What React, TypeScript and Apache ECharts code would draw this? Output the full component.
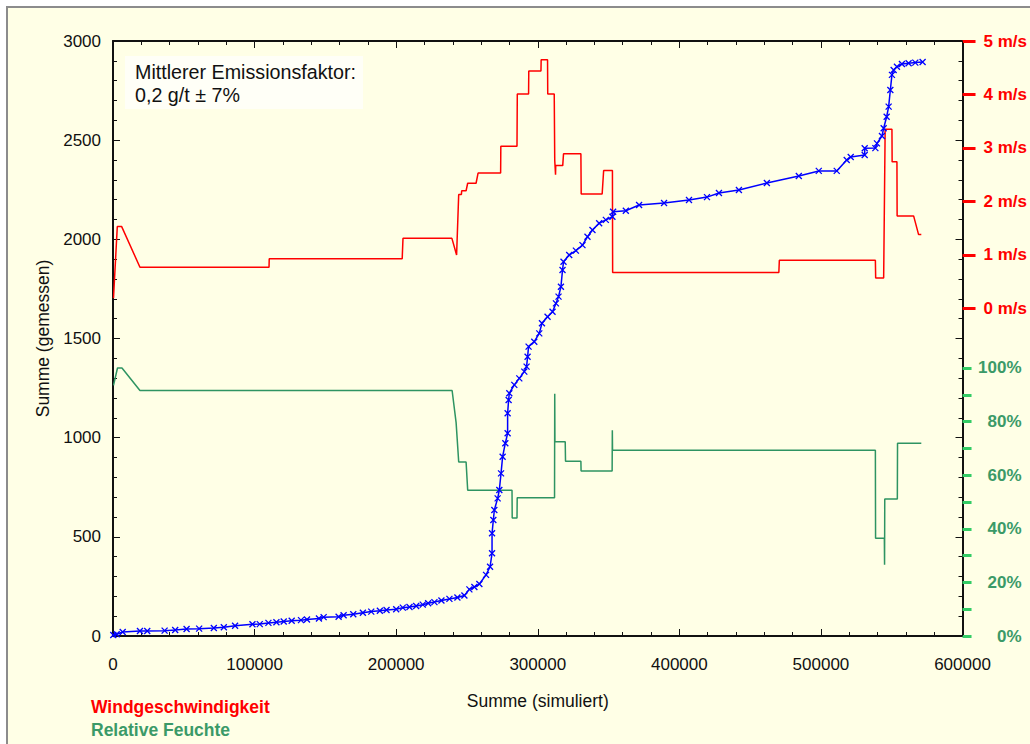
import { useEffect, useRef } from "react";
import * as echarts from "echarts";

// Cumulative sums: simulated (x) vs. measured (y)
const simulatedSum = [
  212, 2609, 6839, 19036, 24183, 36451, 43925, 51962, 60847, 71210, 78261, 86228, 98496, 103642,
  109776, 115417, 120564, 126204, 132761, 136992, 145452, 148766, 159342, 162867, 169706, 176475,
  182397, 188461, 193184, 200023, 204677, 209400, 214124, 218777, 222585, 227026, 231962, 237602,
  243242, 248178, 251703, 255229, 258754, 263478, 266298, 267708, 267708, 268625, 269330, 271657,
  272854, 274053, 275181, 277085, 278706, 278706, 279411, 279905, 283430, 286956, 290481, 292103,
  292808, 293513, 297531, 301057, 302961, 306909, 310434, 312831, 314664, 316357, 317485, 318190,
  322208, 326932, 331586, 335111, 338636, 343360, 348084, 352737, 353230, 362185, 371561, 389188,
  406814, 419505, 427966, 442067, 461808, 484370, 498471, 511161, 518212, 521032, 530903, 530903,
  538443, 539571, 543096, 544294, 546409, 547819, 549018, 550146, 551344, 553672, 557197, 561920,
  566643, 571796,
];
const measuredSum = [
  5, 9, 20, 25, 25, 27, 30, 35, 37, 40, 44, 52, 59, 60,
  66, 69, 73, 77, 80, 83, 88, 95, 97, 105, 110, 117,
  123, 127, 131, 135, 143, 146, 151, 158, 165, 171, 179, 187,
  194, 204, 235, 247, 262, 308, 349, 417, 518, 585, 635, 694,
  736, 820, 904, 972, 1022, 1123, 1190, 1224, 1266, 1299, 1333, 1358,
  1408, 1459, 1484, 1526, 1577, 1610, 1635, 1677, 1711, 1761, 1845, 1887,
  1921, 1943, 1971, 2013, 2047, 2081, 2098, 2114, 2139, 2144, 2173, 2183,
  2198, 2213, 2234, 2249, 2284, 2319, 2345, 2345, 2400, 2415, 2425, 2459,
  2460, 2484, 2521, 2560, 2618, 2669, 2753, 2829, 2854, 2870, 2884, 2888,
  2891, 2894,
];

// Wind speed (m/s) along the simulated sum
const windX = [
  350, 3032, 6134, 19036, 110199, 110340, 204255, 204818, 239364, 242678, 244159, 246062, 246273,
  249375, 250503, 256426, 257836, 273770, 273911, 285333, 285545, 293512, 293653, 302255, 302396,
  306908, 307049, 311632, 311985, 312549, 312690, 317626, 318190, 330458, 330669, 345475, 346533,
  352738, 352879, 470268, 470621, 538443, 538654, 544294, 545352, 550146, 550288, 553672, 553813,
  565450, 568975, 570879,
];
const windSpeed = [
  0.19, 1.53, 1.53, 0.77, 0.77, 0.93, 0.93, 1.31, 1.31, 1.0, 2.13, 2.13, 2.2,
  2.2, 2.34, 2.34, 2.53, 2.53, 3.03, 3.03, 4.01, 4.01, 4.44, 4.44, 4.65,
  4.65, 4.01, 4.01, 2.77, 2.5, 2.67, 2.67, 2.89, 2.89, 2.14, 2.14, 2.58,
  2.58, 0.67, 0.67, 0.9, 0.9, 0.57, 0.57, 3.35, 3.35, 2.74, 2.74, 1.73,
  1.73, 1.38, 1.38,
];

// Relative humidity (%) along the simulated sum
const humidityX = [
  350, 3173, 6345, 19036, 239509, 242329, 242752, 244162, 249380, 250508, 281812, 281953, 285337,
  285478, 311846, 311987, 312128, 319388, 319600, 330458, 330599, 352525, 352666, 352808, 538443,
  538584, 544788, 544929, 545070, 553954, 554095, 570879,
];
const humidity = [
  93.5, 100, 100, 91.6, 91.6, 79.6, 79.6, 64.9, 64.9, 54.4, 54.4, 44.0, 44.0,
  51.6, 51.6, 90.4, 72.5, 72.5, 65.2, 65.2, 61.6, 61.6, 76.8, 69.3, 69.3,
  36.5, 36.5, 26.6, 51.1, 51.1, 71.9, 71.9,
];

const windTicks = [0, 1, 2, 3, 4, 5];
const humidityTicks = [0, 10, 20, 30, 40, 50, 60, 70, 80, 90, 100];
const humidityLabels = [0, 20, 40, 60, 80, 100];

const FONT = "'Liberation Sans', Arial, Helvetica, sans-serif";
const RED = "#ff0000";
const GREEN_LINE = "#2e9462";
const GREEN_TEXT = "#3b9a68";
const GREEN_TICK = "#33cc66";
const BLUE = "#0000ff";

const pairs = (xs: number[], ys: number[]) => xs.map((x, i) => [x, ys[i]]);
const plain = (v: number) => String(v);

export default function App() {
  const ref = useRef<HTMLDivElement>(null);

  useEffect(() => {
    if (!ref.current) return;
    const chart = echarts.init(ref.current, undefined, { renderer: "svg" });

    const blackAxisLine = { show: true, onZero: false, lineStyle: { color: "#111", width: 2 } };
    const blackTick = { show: true, inside: true, length: 7, lineStyle: { color: "#111", width: 1 } };
    const blackMinor = { show: true, splitNumber: 5, length: 4, lineStyle: { color: "#111", width: 1 } };

    chart.setOption({
      animation: false,
      backgroundColor: "transparent",
      grid: { left: 113, right: 66, top: 41, bottom: 108, containLabel: false },
      xAxis: [
        {
          type: "value",
          position: "bottom",
          min: 0,
          max: 600000,
          interval: 100000,
          name: "Summe (simuliert)",
          nameLocation: "middle",
          nameGap: 56,
          nameTextStyle: { fontFamily: FONT, fontSize: 17.5, color: "#111" },
          axisLine: blackAxisLine,
          axisTick: blackTick,
          minorTick: blackMinor,
          axisLabel: { fontFamily: FONT, fontSize: 17, color: "#111", margin: 20, formatter: plain },
          splitLine: { show: false },
        },
        {
          type: "value",
          position: "top",
          min: 0,
          max: 600000,
          interval: 100000,
          axisLine: blackAxisLine,
          axisTick: blackTick,
          minorTick: blackMinor,
          axisLabel: { show: false },
          splitLine: { show: false },
        },
      ],
      yAxis: [
        {
          type: "value",
          position: "left",
          min: 0,
          max: 3000,
          interval: 500,
          name: "Summe (gemessen)",
          nameLocation: "middle",
          nameGap: 56,
          nameRotate: 90,
          nameTextStyle: { fontFamily: FONT, fontSize: 17.5, color: "#111" },
          axisLine: blackAxisLine,
          axisTick: blackTick,
          minorTick: blackMinor,
          axisLabel: { fontFamily: FONT, fontSize: 17, color: "#111", margin: 12, formatter: plain },
          splitLine: { show: false },
        },
        {
          type: "value",
          position: "right",
          min: 0,
          max: 3000,
          interval: 500,
          axisLine: blackAxisLine,
          axisTick: blackTick,
          minorTick: blackMinor,
          axisLabel: { show: false },
          splitLine: { show: false },
        },
        {
          type: "value",
          position: "right",
          min: -6.125,
          max: 5,
          axisLine: { show: false, onZero: false },
          axisTick: {
            show: true,
            inside: false,
            length: 13,
            customValues: windTicks,
            lineStyle: { color: RED, width: 3 },
          },
          axisLabel: {
            customValues: windTicks,
            formatter: (v: number) => `${v} m/s`,
            fontFamily: FONT,
            fontSize: 17,
            fontWeight: "bold",
            color: RED,
            margin: 21,
          },
          splitLine: { show: false },
        },
        {
          type: "value",
          position: "right",
          min: 0,
          max: 222,
          axisLine: { show: false, onZero: false },
          axisTick: {
            show: true,
            inside: false,
            length: 9,
            customValues: humidityTicks,
            lineStyle: { color: GREEN_TICK, width: 3 },
          },
          axisLabel: {
            customValues: humidityLabels,
            formatter: (v: number) => `${v}%`,
            fontFamily: FONT,
            fontSize: 17,
            fontWeight: "bold",
            color: GREEN_TEXT,
            align: "right",
            margin: 59,
          },
          splitLine: { show: false },
        },
      ],
      series: [
        {
          name: "Relative Feuchte",
          type: "line",
          xAxisIndex: 0,
          yAxisIndex: 3,
          data: pairs(humidityX, humidity),
          symbol: "none",
          lineStyle: { color: GREEN_LINE, width: 1.5 },
          z: 2,
        },
        {
          name: "Windgeschwindigkeit",
          type: "line",
          xAxisIndex: 0,
          yAxisIndex: 2,
          data: pairs(windX, windSpeed),
          symbol: "none",
          lineStyle: { color: RED, width: 1.5 },
          z: 3,
        },
        {
          name: "Summe",
          type: "line",
          xAxisIndex: 0,
          yAxisIndex: 0,
          data: pairs(simulatedSum, measuredSum),
          symbol: "path://M0,0L10,10M10,0L0,10",
          symbolSize: 6,
          showAllSymbol: true,
          itemStyle: { color: BLUE, borderColor: BLUE, borderWidth: 1.3 },
          lineStyle: { color: BLUE, width: 1.5 },
          z: 4,
        },
      ],
      graphic: [
        {
          type: "rect",
          shape: { x: 125, y: 56, width: 238, height: 53 },
          style: { fill: "#fffff7" },
          z: 1,
        },
        {
          type: "text",
          x: 135,
          y: 72,
          style: {
            text: "Mittlerer Emissionsfaktor:",
            font: `19.7px ${FONT}`,
            fill: "#111",
            verticalAlign: "middle",
          },
          z: 2,
        },
        {
          type: "text",
          x: 135,
          y: 95,
          style: {
            text: "0,2 g/t ± 7%",
            font: `19.7px ${FONT}`,
            fill: "#111",
            verticalAlign: "middle",
          },
          z: 2,
        },
        {
          type: "text",
          x: 91,
          y: 707,
          style: {
            text: "Windgeschwindigkeit",
            font: `bold 17.5px ${FONT}`,
            fill: RED,
            verticalAlign: "middle",
          },
        },
        {
          type: "text",
          x: 91,
          y: 730,
          style: {
            text: "Relative Feuchte",
            font: `bold 17.5px ${FONT}`,
            fill: GREEN_TEXT,
            verticalAlign: "middle",
          },
        },
      ],
    });

    return () => chart.dispose();
  }, []);

  return (
    <div style={{ position: "fixed", left: 0, top: 0, width: 1030, height: 744, background: "#fff", overflow: "hidden" }}>
      <div
        style={{
          position: "absolute",
          left: 6,
          top: 6,
          width: 1040,
          height: 760,
          background: "#ffffe6",
          border: "2px solid #8c8c8c",
        }}
      />
      <div ref={ref} style={{ position: "absolute", left: 0, top: 0, width: 1030, height: 744 }} />
    </div>
  );
}
